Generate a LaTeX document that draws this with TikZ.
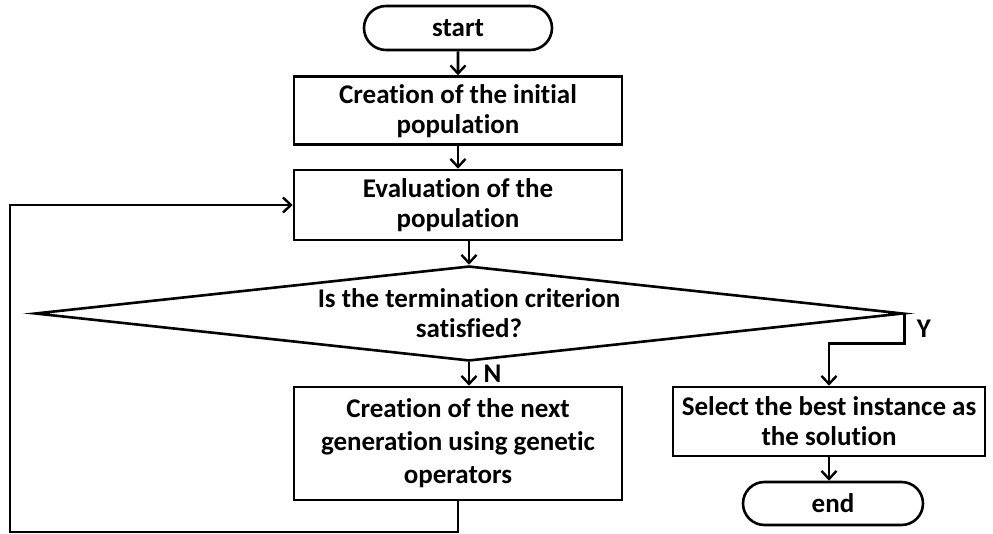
\documentclass[tikz,border=0pt]{standalone}
\usepackage{fontspec}
\setmainfont[Ligatures=NoCommon]{Carlito}
\usetikzlibrary{shapes.misc,shapes.geometric,arrows.meta}
\begin{document}
\begin{tikzpicture}[x=1pt,y=-1pt,
  line width=2.6pt,
  every node/.style={font=\bfseries\fontsize{27}{30}\selectfont},
  box/.style={draw,rectangle,align=center,inner sep=0pt},
  term/.style={draw,rounded rectangle,inner sep=0pt},
  flow/.style={-{Straight Barb[length=8pt,width=15pt,line width=2.4pt]}}]
\useasboundingbox (0,0) rectangle (993,534);

% process boxes
\node[term,minimum width=188,minimum height=44] (start) at (458,28) {start};
\node[box,minimum width=328,minimum height=68,text depth=2pt] (init) at (458,110.5)
  {Creation of the initial\\population};
\node[box,minimum width=328,minimum height=70] (eval) at (458,205)
  {Evaluation of the\\population};
\node[draw,diamond,shape aspect=9.1,inner sep=0pt,
      minimum width=868,minimum height=95] (crit) at (469,313.5) {};
\node[align=center] at (469,313) {Is the termination criterion\\satisfied?};
\node[box,minimum width=328,minimum height=113,
      font=\bfseries\fontsize{27}{33}\selectfont] (next) at (458,443.5)
  {Creation of the next\\generation using genetic\\operators};
\node[box,minimum width=312,minimum height=69] (best) at (829,421.5)
  {Select the best instance as\\the solution};
\node[term,minimum width=180,minimum height=43] (end) at (833,503.5) {end};

% connectors
\draw[flow] (start) -- (init);
\draw[flow] (init) -- (eval);
\draw[flow] (eval.south -| crit.north) -- (crit.north);
\draw[flow] (crit.south) -- (crit.south |- next.north)
  node[midway,right=10pt] {N};
\draw[flow] (crit.east) -- ++(0,30) node[midway,right=8pt] {Y} -| (best.north);
\draw[flow] (best.south) -- (best.south |- end.north);
\coordinate (loop) at (10,532);
\draw[flow] (next.south) |- (loop) |- (eval.west);
\end{tikzpicture}
\end{document}
